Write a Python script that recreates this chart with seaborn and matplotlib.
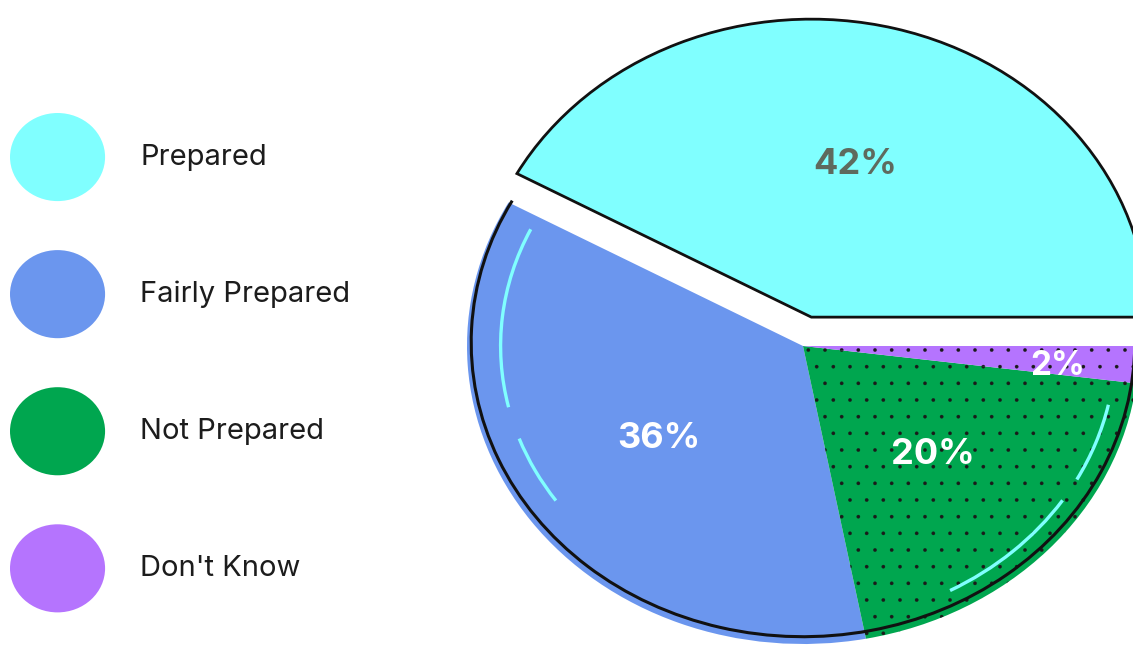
import math
import matplotlib
matplotlib.use("Agg")
import matplotlib.pyplot as plt
import matplotlib.patches as mpatches
from matplotlib.legend_handler import HandlerPatch
import seaborn as sns

# Survey answers and their shares (%)
categories = ["Prepared", "Fairly Prepared", "Not Prepared", "Don't Know"]
shares = [42, 36, 20, 2]
colors = ["#80ffff", "#6b96ee", "#00a64f", "#b574fe"]
label_colors = ["#5e6a5e", "white", "white", "white"]

sns.set_style("white")
plt.rcParams["font.family"] = ["Inter", "DejaVu Sans"]
plt.rcParams["hatch.linewidth"] = 0.2

W, H = 1133, 657
fig = plt.figure(figsize=(W / 100, H / 100), dpi=100)

# Pie geometry in pixels: centre and horizontal / vertical radius
cx, cy, rx, ry = 803, 346, 336, 298
left_px = 440
ax = fig.add_axes([left_px / W, 0, (W - left_px) / W, 1])
palette = sns.color_palette(colors)

wedges, _, pct_texts = ax.pie(
    shares,
    colors=palette,
    startangle=0,
    counterclock=True,
    explode=[0.1, 0, 0, 0],
    autopct="%.0f%%",
    pctdistance=0.53,
    wedgeprops=dict(linewidth=0),
    textprops=dict(fontsize=26, fontweight="bold"),
)
ax.set_aspect("auto")
ax.set_xlim((left_px - cx) / rx, (W - cx) / rx)
ax.set_ylim((cy - H) / ry, cy / ry)
ax.axis("off")

# Outline around the pulled-out slice
wedges[0].set_edgecolor("#111111")
wedges[0].set_linewidth(2)

for t, c in zip(pct_texts, label_colors):
    t.set_color(c)

# The last slice is thin: set its label further out, low in the slice
w = wedges[3]
ang = math.radians(w.theta1 + 0.3 * (w.theta2 - w.theta1))
pct_texts[3].set_position((0.76 * math.cos(ang), 0.76 * math.sin(ang)))
pct_texts[3].set_fontsize(24)

# Dotted texture on the lower slices
for w in wedges[2:]:
    ax.add_patch(mpatches.Wedge(w.center, w.r, w.theta1, w.theta2,
                                facecolor="none", edgecolor="#1a1a1a",
                                linewidth=0, hatch="."))

# Dark rim around the remaining slices
ax.add_patch(mpatches.Arc((0, 0.012), 1.975, 1.975,
                          theta1=wedges[1].theta1, theta2=360,
                          color="#111111", linewidth=2.2))


# Light accent arcs inside two slices (angles measured from the slice start)
def accent(wedge, parts, r):
    for a, b in parts:
        ax.add_patch(mpatches.Arc((0, 0), 2 * r, 2 * r,
                                  theta1=wedge.theta1 + a,
                                  theta2=wedge.theta1 + b,
                                  color="#80ffff", linewidth=2.4))


accent(wedges[1], [(3, 42), (49, 64)], r=0.9)
span = wedges[2].theta2 - wedges[2].theta1
accent(wedges[2], [(0.24 * span, 0.63 * span), (0.70 * span, 0.93 * span)],
       r=0.93)

# Legend with oval swatches
handles = [mpatches.Patch(facecolor=c, edgecolor="none", label=l)
           for c, l in zip(colors, categories)]


def oval(legend, orig_handle, xdescent, ydescent, width, height, fontsize):
    return mpatches.Ellipse((width / 2 - xdescent, height / 2 - ydescent),
                            width, height)


fig.legend(handles=handles, loc="upper left",
           bbox_to_anchor=(10 / W, 1 - 113 / H), frameon=False,
           fontsize=21, labelcolor="#1c1c1c",
           handlelength=3.26, handleheight=4.27, labelspacing=1.68,
           handletextpad=1.2, borderpad=0, borderaxespad=0,
           handler_map={mpatches.Patch: HandlerPatch(patch_func=oval)})

fig.savefig("out.png", dpi=100)
